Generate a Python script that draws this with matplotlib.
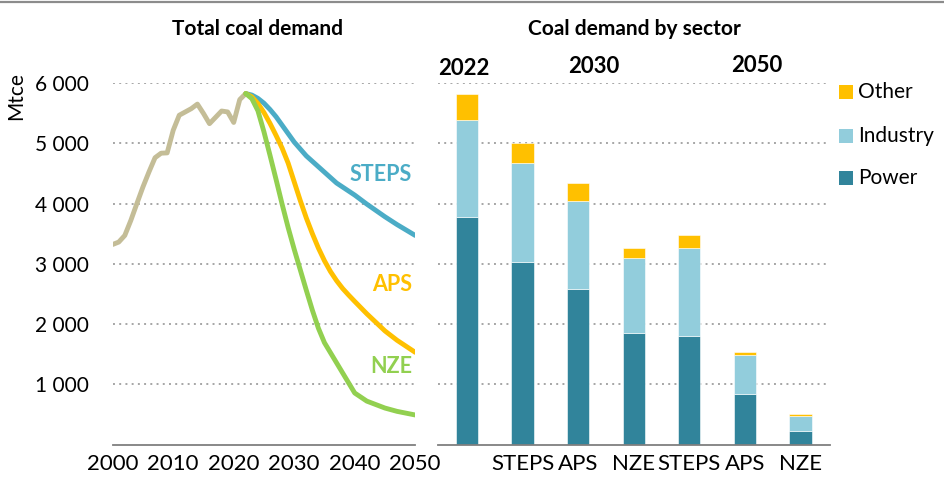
import matplotlib
matplotlib.use("Agg")
import matplotlib.pyplot as plt
from matplotlib.patches import Rectangle
from matplotlib.lines import Line2D

plt.rcParams['font.family'] = ['Lato', 'DejaVu Sans']

# ---------------- data ----------------
hist_years = list(range(2000, 2023))
hist_values = [3320, 3360, 3470, 3720, 4000, 4275, 4525, 4760, 4835, 4840,
               5215, 5465, 5520, 5575, 5650, 5495, 5325, 5430, 5535, 5520,
               5345, 5725, 5825]

steps_years = [2022, 2023, 2024, 2025, 2026, 2027, 2028, 2029, 2030, 2032,
               2035, 2037, 2040, 2042, 2045, 2047, 2050]
steps_values = [5825, 5800, 5745, 5665, 5560, 5440, 5300, 5160, 5020, 4790,
                4520, 4340, 4140, 3990, 3780, 3650, 3470]

aps_years = [2022, 2023, 2024, 2025, 2026, 2027, 2028, 2029, 2030, 2031,
             2032, 2033, 2034, 2035, 2036, 2037, 2038, 2039, 2040, 2042,
             2045, 2047, 2050]
aps_values = [5825, 5770, 5660, 5510, 5330, 5130, 4920, 4670, 4360, 4050,
              3760, 3500, 3260, 3050, 2870, 2720, 2590, 2480, 2375, 2170,
              1885, 1730, 1530]

nze_years = [2022, 2023, 2024, 2025, 2026, 2027, 2028, 2029, 2030, 2031,
             2032, 2033, 2034, 2035, 2040, 2042, 2045, 2047, 2050]
nze_values = [5825, 5740, 5540, 5190, 4800, 4400, 3990, 3600, 3240, 2900,
              2560, 2230, 1930, 1690, 855, 720, 605, 550, 490]

bar_labels = ['', 'STEPS', 'APS', 'NZE', 'STEPS', 'APS', 'NZE']
power = [3770, 3030, 2575, 1850, 1795, 840, 220]
industry = [1615, 1645, 1460, 1250, 1470, 650, 245]
other = [425, 335, 310, 155, 205, 40, 35]
bar_years = ['2022', '2030', '2050']
bar_year_pos = [-0.05, 2.29, 5.22]

yticks = [1000, 2000, 3000, 4000, 5000, 6000]
ytick_labels = ['1 000', '2 000', '3 000', '4 000', '5 000', '6 000']
xticks = [2000, 2010, 2020, 2030, 2040, 2050]

# ---------------- style ----------------
C_HIST = '#C4BD97'
C_STEPS = '#4BACC6'
C_APS = '#FFC000'
C_NZE = '#92D050'
C_POWER = '#31849B'
C_IND = '#92CDDC'
C_OTHER = '#FFC000'
GRID = '#A6A6A6'

W, H = 945, 479
fig = plt.figure(figsize=(W / 100, H / 100), dpi=100)

def fx(px):
    return px / W

def fy(py):
    return 1 - py / H

ax_bottom = fy(444.5)
ax_height = (444.5 - 83) / H

# ---------------- left panel ----------------
ax1 = fig.add_axes([fx(112.7), ax_bottom, (415.2 - 112.7) / W, ax_height])
ax1.set_xlim(2000, 2050)
ax1.set_ylim(0, 6000)
for y in yticks:
    ax1.axhline(y, color=GRID, lw=1.4, ls=(0, (1, 2.2)), zorder=0)
lw = 3.5
kw = dict(lw=lw, solid_capstyle='round', solid_joinstyle='round')
ax1.plot(hist_years, hist_values, color=C_HIST, zorder=2, **kw)
ax1.plot(steps_years, steps_values, color=C_STEPS, zorder=3, **kw)
ax1.plot(aps_years, aps_values, color=C_APS, zorder=4, **kw)
ax1.plot(nze_years, nze_values, color=C_NZE, zorder=5, **kw)

lab_fs = 15.5
ax1.text(2049.5, 4485, 'STEPS', color=C_STEPS, fontsize=lab_fs, fontweight='bold', ha='right', va='center')
ax1.text(2049.5, 2658, 'APS', color=C_APS, fontsize=lab_fs, fontweight='bold', ha='right', va='center')
ax1.text(2049.5, 1296, 'NZE', color=C_NZE, fontsize=lab_fs, fontweight='bold', ha='right', va='center')

ax1.set_yticks(yticks)
ax1.set_yticklabels(ytick_labels, fontsize=15)
ax1.set_xticks(xticks)
ax1.set_xticklabels([str(x) for x in xticks], fontsize=16)
ax1.tick_params(axis='y', length=0, pad=17)
ax1.tick_params(axis='x', length=0, pad=7)
for s in ['top', 'right', 'left']:
    ax1.spines[s].set_visible(False)
ax1.spines['bottom'].set_color('#7F7F7F')
ax1.spines['bottom'].set_linewidth(1.3)

# ---------------- right panel ----------------
ax2 = fig.add_axes([fx(438), ax_bottom, (830 - 438) / W, ax_height])
ax2.set_xlim(-0.52, 6.53)
ax2.set_ylim(0, 6000)
for y in yticks:
    ax2.axhline(y, color=GRID, lw=1.4, ls=(0, (1, 2.2)), zorder=0)
xs = list(range(len(power)))
bw = 0.4
ax2.bar(xs, power, width=bw, color=C_POWER, edgecolor='white', linewidth=0.4, zorder=2)
ax2.bar(xs, industry, width=bw, bottom=power, color=C_IND, edgecolor='white', linewidth=0.4, zorder=2)
bot2 = [p + i for p, i in zip(power, industry)]
ax2.bar(xs, other, width=bw, bottom=bot2, color=C_OTHER, edgecolor='white', linewidth=0.4, zorder=2)

for lbl, xp, yv in zip(bar_years, bar_year_pos, [6237, 6270, 6287]):
    ax2.text(xp, yv, lbl, fontsize=16, fontweight='bold', ha='center', va='center', clip_on=False)

ax2.set_xticks(xs)
ax2.set_xticklabels(bar_labels, fontsize=16)
ax2.set_yticks([])
ax2.tick_params(axis='x', length=0, pad=7)
for s in ['top', 'right', 'left']:
    ax2.spines[s].set_visible(False)
ax2.spines['bottom'].set_color('#7F7F7F')
ax2.spines['bottom'].set_linewidth(1.3)

# ---------------- titles, labels, legend ----------------
fig.text(fx(258), fy(29), 'Total coal demand', fontsize=15, fontweight='bold', ha='center', va='center')
fig.text(fx(634), fy(29), 'Coal demand by sector', fontsize=15, fontweight='bold', ha='center', va='center')
fig.text(fx(16.5), fy(96), 'Mtce', fontsize=15, rotation=90, ha='center', va='center')

leg = [('Other', C_OTHER, 92), ('Industry', C_IND, 136), ('Power', C_POWER, 178)]
for name, col, yc in leg:
    fig.add_artist(Rectangle((fx(839), fy(yc + 7)), 14 / W, 14 / H, transform=fig.transFigure,
                             facecolor=col, edgecolor='none'))
    fig.text(fx(858), fy(yc), name, fontsize=15, ha='left', va='center')

fig.add_artist(Line2D([0, 1], [fy(1.5), fy(1.5)], transform=fig.transFigure, color='#8C8C8C', lw=1.6))

fig.savefig('out.png', dpi=100)
